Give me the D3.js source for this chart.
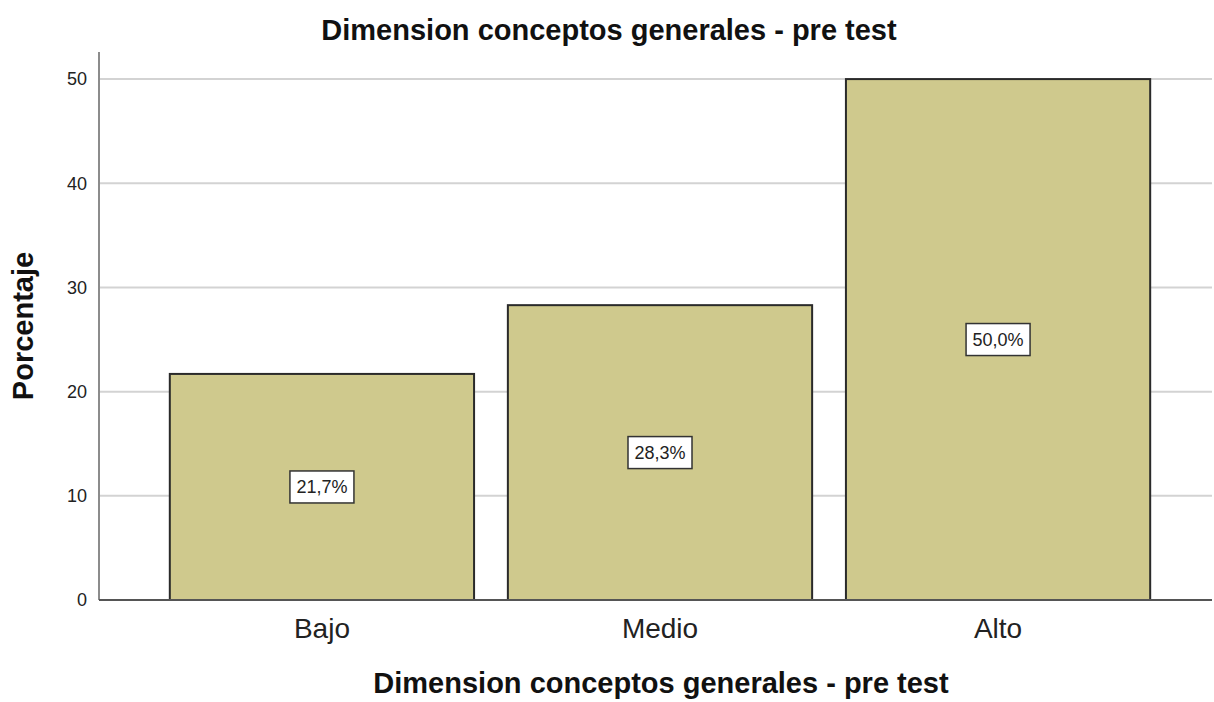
<!DOCTYPE html>
<html>
<head>
<meta charset="utf-8">
<script src="https://cdn.jsdelivr.net/npm/d3@7"></script>
<style>
  body { margin: 0; background: #fff; }
  svg { display: block; font-family: "Liberation Sans", Arial, sans-serif; }
</style>
</head>
<body>
<div id="chart"></div>
<script>
const categories = ["Bajo", "Medio", "Alto"];
const percentages = [21.7, 28.3, 50.0];
const yTicks = [0, 10, 20, 30, 40, 50];
const chartTitle = "Dimension conceptos generales - pre test";
const xTitle = "Dimension conceptos generales - pre test";
const yTitle = "Porcentaje";

const W = 1214, H = 702;
const plot = {left: 99, right: 1212, top: 52, bottom: 600};

const svg = d3.select("#chart").append("svg")
    .attr("width", W).attr("height", H);

// echelles
const x = d3.scaleBand()
    .domain(categories)
    .range([136, 1184])
    .paddingInner(0.1)
    .paddingOuter(0.1);

const y = d3.scaleLinear()
    .domain([0, 52.6])
    .range([plot.bottom, plot.top]);

// grille
svg.append("g")
    .selectAll("line")
    .data(yTicks.filter(d => d > 0))
    .join("line")
    .attr("x1", plot.left).attr("x2", plot.right)
    .attr("y1", d => y(d)).attr("y2", d => y(d))
    .attr("stroke", "#d3d3d3")
    .attr("stroke-width", 2);

// axe Y
const yAxis = svg.append("g")
    .attr("transform", `translate(${plot.left},0)`)
    .call(d3.axisLeft(y).tickValues(yTicks).tickSize(0).tickPadding(12));
yAxis.select(".domain").remove();
yAxis.selectAll("text")
    .style("font-size", "18px")
    .style("fill", "#222")
    .style("font-family", "Liberation Sans, Arial, sans-serif");

svg.append("line")
    .attr("x1", plot.left).attr("x2", plot.left)
    .attr("y1", plot.top).attr("y2", plot.bottom)
    .attr("stroke", "#8c8c8c").attr("stroke-width", 2);

// barres
svg.append("g")
    .selectAll("rect")
    .data(categories.map((c, i) => ({cat: c, val: percentages[i]})))
    .join("rect")
    .attr("x", d => x(d.cat))
    .attr("y", d => y(d.val))
    .attr("width", x.bandwidth())
    .attr("height", d => y(0) - y(d.val))
    .attr("fill", "#cfc98d")
    .attr("stroke", "#2a2a2a")
    .attr("stroke-width", 2);

// axe X
svg.append("line")
    .attr("x1", plot.left).attr("x2", plot.right)
    .attr("y1", plot.bottom).attr("y2", plot.bottom)
    .attr("stroke", "#555").attr("stroke-width", 2);

const xAxis = svg.append("g")
    .attr("transform", `translate(0,${plot.bottom})`)
    .call(d3.axisBottom(x).tickSize(0).tickPadding(18));
xAxis.select(".domain").remove();
xAxis.selectAll("text")
    .style("font-size", "28px")
    .style("fill", "#222")
    .style("font-family", "Liberation Sans, Arial, sans-serif");

// etiquettes de valeur
const fmt = v => v.toFixed(1).replace(".", ",") + "%";
const lab = svg.append("g")
    .selectAll("g")
    .data(categories.map((c, i) => ({cat: c, val: percentages[i]})))
    .join("g")
    .attr("transform", d => `translate(${x(d.cat) + x.bandwidth() / 2},${y(d.val / 2)})`);

lab.append("rect")
    .attr("x", -32).attr("y", -16)
    .attr("width", 64).attr("height", 32)
    .attr("fill", "#fff")
    .attr("stroke", "#333")
    .attr("stroke-width", 1.5);

lab.append("text")
    .attr("text-anchor", "middle")
    .attr("dy", "0.36em")
    .style("font-size", "18px")
    .style("fill", "#222")
    .text(d => fmt(d.val));

// titres
svg.append("text")
    .attr("x", 609).attr("y", 40)
    .attr("text-anchor", "middle")
    .style("font-size", "29px")
    .style("font-weight", "bold")
    .style("fill", "#111")
    .text(chartTitle);

svg.append("text")
    .attr("x", 661).attr("y", 693)
    .attr("text-anchor", "middle")
    .style("font-size", "29px")
    .style("font-weight", "bold")
    .style("fill", "#111")
    .text(xTitle);

svg.append("text")
    .attr("transform", "translate(33,326) rotate(-90)")
    .attr("text-anchor", "middle")
    .style("font-size", "29px")
    .style("font-weight", "bold")
    .style("fill", "#111")
    .text(yTitle);
</script>
</body>
</html>
